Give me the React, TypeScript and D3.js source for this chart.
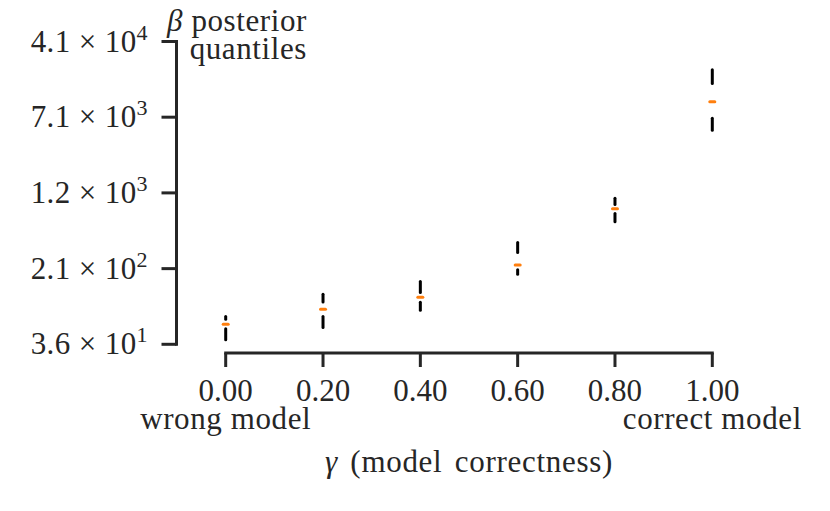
import React, { useEffect, useRef } from 'react';
import * as d3 from 'd3';

// model correctness on the x axis
const gammas = [0, 0.2, 0.4, 0.6, 0.8, 1.0];
// beta posterior quantiles (low whisker, lower quartile, median, upper quartile, high whisker)
const qLow = [40.0, 53.2, 79.5, 183.6, 620.6, 5217];
const q25 = [51.6, 68.7, 95.8, 203.4, 752.6, 6894];
const q50 = [57.3, 81.4, 107.3, 227.3, 841.4, 10118];
const q75 = [64.5, 96.2, 120.0, 304.0, 927.7, 15446];
const qHigh = [68.7, 115.3, 155.0, 383.6, 1074, 21240];

const yTickValues = [36, 209, 1215, 7060, 41000];
const xTickValues = [0, 0.2, 0.4, 0.6, 0.8, 1.0];
const xExtraLabels: Record<number, string> = { 0: 'wrong model', 1: 'correct model' };

const FONT = '"Liberation Serif", "DejaVu Serif", serif';
const INK = '#262626';
const FS = 31;

const App: React.FC = () => {
  const svgRef = useRef<SVGSVGElement>(null);

  useEffect(() => {
    const svg = d3.select(svgRef.current);
    svg.selectAll('*').remove();

    const x = d3.scaleLinear().domain([0, 1]).range([225.7, 712.3]);
    const y = d3.scaleLog().domain([36, 41000]).range([344.3, 41.5]);

    const yAxisX = 176.5;
    const xAxisY = 353;

    // y spine + ticks
    svg.append('line')
      .attr('x1', yAxisX).attr('x2', yAxisX)
      .attr('y1', y(41000) - 1.5).attr('y2', y(36) + 1.5)
      .attr('stroke', INK).attr('stroke-width', 3);

    const yt = svg.append('g').selectAll('g')
      .data(yTickValues)
      .enter().append('g')
      .attr('transform', d => `translate(0,${y(d)})`);
    yt.append('line')
      .attr('x1', yAxisX - 15).attr('x2', yAxisX)
      .attr('stroke', INK).attr('stroke-width', 3);
    const ytxt = yt.append('text')
      .attr('x', 148).attr('y', 10)
      .attr('text-anchor', 'end')
      .attr('font-family', FONT).attr('font-size', FS)
      .attr('letter-spacing', 0.4)
      .attr('fill', INK);
    ytxt.append('tspan')
      .text(d => {
        const e = Math.floor(Math.log10(d));
        return `${(d / Math.pow(10, e)).toFixed(1)} \u00d7 10`;
      });
    ytxt.append('tspan')
      .attr('dy', -12).attr('font-size', 22)
      .text(d => `${Math.floor(Math.log10(d))}`);

    // x spine + ticks
    svg.append('line')
      .attr('x1', x(0) - 1.5).attr('x2', x(1) + 1.5)
      .attr('y1', xAxisY).attr('y2', xAxisY)
      .attr('stroke', INK).attr('stroke-width', 3);

    const xt = svg.append('g').selectAll('g')
      .data(xTickValues)
      .enter().append('g')
      .attr('transform', d => `translate(${x(d)},0)`);
    xt.append('line')
      .attr('y1', xAxisY).attr('y2', xAxisY + 14)
      .attr('stroke', INK).attr('stroke-width', 3);
    xt.append('text')
      .attr('y', 401)
      .attr('text-anchor', 'middle')
      .attr('font-family', FONT).attr('font-size', FS)
      .attr('fill', INK)
      .text(d => d3.format('.2f')(d));
    xt.filter(d => xExtraLabels[d] !== undefined)
      .append('text')
      .attr('y', 429)
      .attr('text-anchor', 'middle')
      .attr('font-family', FONT).attr('font-size', FS)
      .attr('letter-spacing', 0.6)
      .attr('fill', INK)
      .text(d => xExtraLabels[d]);

    // axis titles
    const xlab = svg.append('text')
      .attr('x', (x(0) + x(1)) / 2).attr('y', 472)
      .attr('text-anchor', 'middle')
      .attr('font-family', FONT).attr('font-size', FS)
      .attr('letter-spacing', 0.7).attr('word-spacing', 4)
      .attr('fill', INK);
    xlab.append('tspan').attr('font-style', 'italic').text('\u03b3');
    xlab.append('tspan').text(' (model correctness)');

    const ylab = svg.append('text')
      .attr('text-anchor', 'end')
      .attr('font-family', FONT).attr('font-size', FS)
      .attr('letter-spacing', 0.6)
      .attr('fill', INK);
    const l1 = ylab.append('tspan').attr('x', 307).attr('y', 31);
    l1.append('tspan').attr('font-style', 'italic').text('\u03b2');
    l1.append('tspan').text(' posterior');
    ylab.append('tspan').attr('x', 307).attr('y', 58.5).text('quantiles');

    // quantile marks
    const idx = d3.range(gammas.length);
    const marks = svg.append('g');
    marks.selectAll('.lo')
      .data(idx)
      .enter().append('line')
      .attr('class', 'lo')
      .attr('x1', i => x(gammas[i])).attr('x2', i => x(gammas[i]))
      .attr('y1', i => y(qLow[i])).attr('y2', i => y(q25[i]))
      .attr('stroke', '#000').attr('stroke-width', 3).attr('stroke-linecap', 'round');
    marks.selectAll('.hi')
      .data(idx)
      .enter().append('line')
      .attr('class', 'hi')
      .attr('x1', i => x(gammas[i])).attr('x2', i => x(gammas[i]))
      .attr('y1', i => y(q75[i])).attr('y2', i => y(qHigh[i]))
      .attr('stroke', '#000').attr('stroke-width', 3).attr('stroke-linecap', 'round');
    marks.selectAll('.med')
      .data(idx)
      .enter().append('line')
      .attr('class', 'med')
      .attr('x1', i => x(gammas[i]) - 2.5).attr('x2', i => x(gammas[i]) + 2.5)
      .attr('y1', i => y(q50[i])).attr('y2', i => y(q50[i]))
      .attr('stroke', '#ff7f0e').attr('stroke-width', 3).attr('stroke-linecap', 'round');
  }, []);

  return (
    <svg
      ref={svgRef}
      width={830}
      height={511}
      style={{ position: 'absolute', left: 0, top: 0, background: '#fff', display: 'block' }}
    />
  );
};

export default App;
